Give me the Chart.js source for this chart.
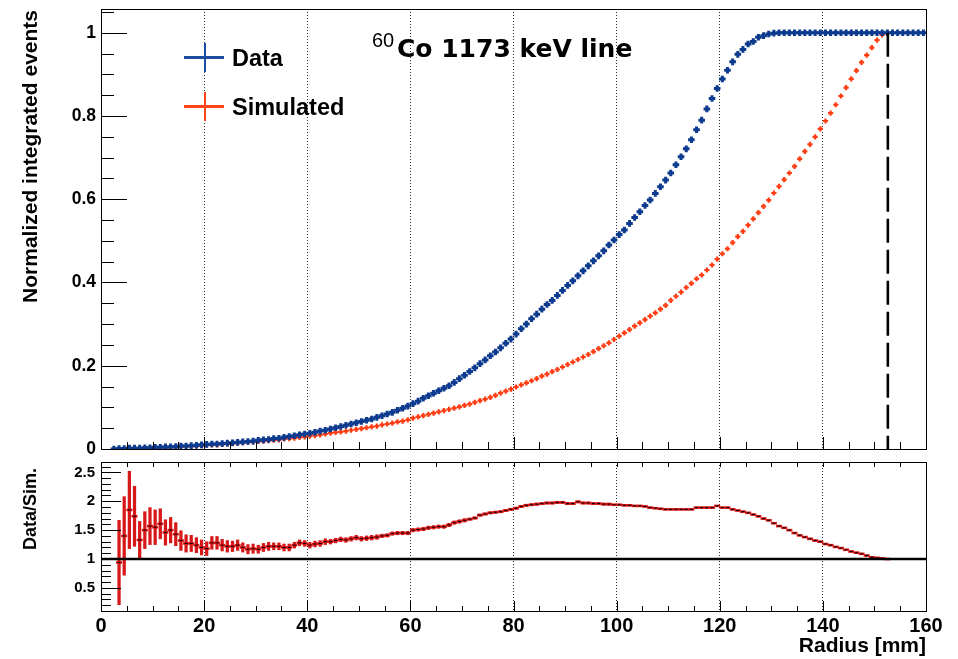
<!DOCTYPE html>
<html>
<head>
<meta charset="utf-8">
<script src="https://cdn.jsdelivr.net/npm/chart.js@4.4.1/dist/chart.umd.min.js"></script>
<style>
  body { margin: 0; background: #fff; width: 958px; height: 659px; overflow: hidden; position: relative;
         font-family: "Liberation Sans", Arial, sans-serif; }
  canvas { position: absolute; left: 0; }
  #topChart { top: 0; }
  #ratioChart { top: 455px; }
  .txt { position: absolute; white-space: nowrap; color: #000; line-height: 1; }
  .b { font-weight: bold; }
  .vert { writing-mode: vertical-rl; transform: rotate(180deg); }
  .bar { position: absolute; }
</style>
</head>
<body>
<canvas id="topChart" width="958" height="456"></canvas>
<canvas id="ratioChart" width="958" height="204"></canvas>

<div class="txt vert b" style="left:19px; top:10px; font-size:21px;">Normalized integrated events</div>
<div class="txt vert b" style="left:21px; top:468px; font-size:18px;">Data/Sim.</div>
<div class="txt b" style="right:32px; top:634px; font-size:21px;">Radius [mm]</div>

<div class="txt" style="left:372px; top:30px; font-size:20px;">60</div>
<div class="txt b" style="left:397px; top:36px; font-size:25px; font-family:'DejaVu Sans';">Co 1173 keV line</div>

<!-- legende -->
<div class="bar" style="left:184px; top:56px; width:40px; height:2.5px; background:#1d4d9f;"></div>
<div class="bar" style="left:203.5px; top:43px; width:2.5px; height:29px; background:#1d4d9f;"></div>
<div class="txt b" style="left:232px; top:47px; font-size:23.5px;">Data</div>
<div class="bar" style="left:184px; top:105px; width:40px; height:2.5px; background:#ff4418;"></div>
<div class="bar" style="left:203.5px; top:92px; width:2.5px; height:29px; background:#ff4418;"></div>
<div class="txt b" style="left:232px; top:96px; font-size:23.5px;">Simulated</div>

<script>
// centros dos bins (mm)
const radius = [
  2.5, 3.5, 4.5, 5.5, 6.5, 7.5, 8.5, 9.5, 10.5, 11.5,
  12.5, 13.5, 14.5, 15.5, 16.5, 17.5, 18.5, 19.5, 20.5, 21.5,
  22.5, 23.5, 24.5, 25.5, 26.5, 27.5, 28.5, 29.5, 30.5, 31.5,
  32.5, 33.5, 34.5, 35.5, 36.5, 37.5, 38.5, 39.5, 40.5, 41.5,
  42.5, 43.5, 44.5, 45.5, 46.5, 47.5, 48.5, 49.5, 50.5, 51.5,
  52.5, 53.5, 54.5, 55.5, 56.5, 57.5, 58.5, 59.5, 60.5, 61.5,
  62.5, 63.5, 64.5, 65.5, 66.5, 67.5, 68.5, 69.5, 70.5, 71.5,
  72.5, 73.5, 74.5, 75.5, 76.5, 77.5, 78.5, 79.5, 80.5, 81.5,
  82.5, 83.5, 84.5, 85.5, 86.5, 87.5, 88.5, 89.5, 90.5, 91.5,
  92.5, 93.5, 94.5, 95.5, 96.5, 97.5, 98.5, 99.5, 100.5, 101.5,
  102.5, 103.5, 104.5, 105.5, 106.5, 107.5, 108.5, 109.5, 110.5, 111.5,
  112.5, 113.5, 114.5, 115.5, 116.5, 117.5, 118.5, 119.5, 120.5, 121.5,
  122.5, 123.5, 124.5, 125.5, 126.5, 127.5, 128.5, 129.5, 130.5, 131.5,
  132.5, 133.5, 134.5, 135.5, 136.5, 137.5, 138.5, 139.5, 140.5, 141.5,
  142.5, 143.5, 144.5, 145.5, 146.5, 147.5, 148.5, 149.5, 150.5, 151.5,
  152.5, 153.5, 154.5, 155.5, 156.5, 157.5, 158.5, 159.5
];

// Data (integrado, normalizado) - 2.5 a 159.5 mm
const dataValues = [
  0.000, 0.001, 0.001, 0.002, 0.002, 0.002, 0.003, 0.003, 0.004, 0.004,
  0.005, 0.005, 0.006, 0.007, 0.007, 0.008, 0.009, 0.010, 0.011, 0.012,
  0.012, 0.013, 0.014, 0.015, 0.016, 0.017, 0.018, 0.019, 0.021, 0.022,
  0.023, 0.025, 0.026, 0.028, 0.030, 0.032, 0.034, 0.036, 0.038, 0.040,
  0.043, 0.045, 0.048, 0.051, 0.054, 0.057, 0.060, 0.063, 0.066, 0.069,
  0.072, 0.076, 0.080, 0.084, 0.088, 0.093, 0.098, 0.103, 0.109, 0.115,
  0.122, 0.128, 0.134, 0.140, 0.146, 0.152, 0.160, 0.169, 0.177, 0.186,
  0.195, 0.205, 0.214, 0.224, 0.233, 0.243, 0.254, 0.264, 0.276, 0.289,
  0.300, 0.313, 0.324, 0.336, 0.347, 0.357, 0.369, 0.381, 0.393, 0.404,
  0.416, 0.428, 0.440, 0.452, 0.464, 0.476, 0.490, 0.502, 0.515, 0.526,
  0.542, 0.556, 0.570, 0.585, 0.598, 0.614, 0.630, 0.646, 0.663, 0.683,
  0.702, 0.721, 0.743, 0.767, 0.790, 0.817, 0.842, 0.866, 0.889, 0.910,
  0.930, 0.948, 0.960, 0.973, 0.979, 0.989, 0.993, 0.997, 0.999, 1.000,
  1.000, 1.000, 1.000, 1.000, 1.000, 1.000, 1.000, 1.000, 1.000, 1.000,
  1.000, 1.000, 1.000, 1.000, 1.000, 1.000, 1.000, 1.000, 1.000, 1.000,
  1.000, 1.000, 1.000, 1.000, 1.000, 1.000, 1.000, 1.000
];

// Simulated - 2.5 a 152.5 mm
const simValues = [
  0.000, 0.000, 0.001, 0.001, 0.001, 0.001, 0.002, 0.002, 0.003, 0.003,
  0.003, 0.004, 0.004, 0.005, 0.006, 0.006, 0.007, 0.008, 0.009, 0.010,
  0.010, 0.011, 0.012, 0.013, 0.014, 0.015, 0.016, 0.017, 0.018, 0.019,
  0.020, 0.021, 0.022, 0.024, 0.025, 0.026, 0.028, 0.029, 0.031, 0.032,
  0.034, 0.036, 0.038, 0.040, 0.041, 0.043, 0.045, 0.047, 0.049, 0.051,
  0.053, 0.055, 0.058, 0.060, 0.062, 0.065, 0.067, 0.070, 0.074, 0.077,
  0.080, 0.083, 0.086, 0.089, 0.092, 0.095, 0.098, 0.101, 0.105, 0.108,
  0.112, 0.116, 0.120, 0.124, 0.129, 0.134, 0.139, 0.144, 0.149, 0.154,
  0.159, 0.164, 0.169, 0.175, 0.180, 0.186, 0.191, 0.197, 0.203, 0.209,
  0.215, 0.221, 0.227, 0.234, 0.241, 0.248, 0.255, 0.263, 0.271, 0.279,
  0.287, 0.295, 0.303, 0.311, 0.319, 0.327, 0.336, 0.345, 0.357, 0.367,
  0.377, 0.388, 0.398, 0.409, 0.418, 0.430, 0.442, 0.456, 0.469, 0.481,
  0.496, 0.510, 0.523, 0.538, 0.553, 0.568, 0.583, 0.598, 0.615, 0.631,
  0.647, 0.663, 0.679, 0.697, 0.715, 0.732, 0.750, 0.769, 0.788, 0.807,
  0.827, 0.848, 0.868, 0.889, 0.909, 0.929, 0.946, 0.964, 0.982, 0.995,
  1.000
];

// Data/Sim. - 3.5 a 152.5 mm
const ratioValues = [
  0.94, 1.40, 1.85, 1.74, 1.33, 1.50, 1.57, 1.55, 1.61, 1.46,
  1.50, 1.43, 1.32, 1.27, 1.27, 1.24, 1.20, 1.18, 1.28, 1.28,
  1.24, 1.22, 1.22, 1.24, 1.20, 1.17, 1.18, 1.17, 1.20, 1.22,
  1.22, 1.22, 1.20, 1.20, 1.24, 1.28, 1.27, 1.24, 1.26, 1.27,
  1.30, 1.30, 1.32, 1.34, 1.33, 1.35, 1.37, 1.35, 1.36, 1.37,
  1.38, 1.40, 1.41, 1.44, 1.45, 1.45, 1.45, 1.50, 1.51, 1.52,
  1.54, 1.55, 1.56, 1.56, 1.59, 1.63, 1.65, 1.67, 1.69, 1.71,
  1.76, 1.78, 1.80, 1.81, 1.82, 1.84, 1.86, 1.88, 1.91, 1.93,
  1.94, 1.95, 1.96, 1.97, 1.97, 1.98, 1.98, 1.96, 1.96, 1.99,
  1.97, 1.97, 1.96, 1.96, 1.95, 1.95, 1.94, 1.94, 1.93, 1.93,
  1.92, 1.92, 1.91, 1.89, 1.88, 1.87, 1.86, 1.86, 1.86, 1.86,
  1.86, 1.86, 1.89, 1.89, 1.89, 1.89, 1.92, 1.89, 1.89, 1.86,
  1.84, 1.82, 1.80, 1.77, 1.74, 1.70, 1.67, 1.62, 1.57, 1.54,
  1.50, 1.45, 1.41, 1.38, 1.35, 1.32, 1.30, 1.26, 1.24, 1.21,
  1.19, 1.16, 1.13, 1.11, 1.09, 1.06, 1.03, 1.02, 1.01, 1.00
];

// erro da razao (meia largura)
const ratioErrors = [
  0.73, 0.68, 0.67, 0.52, 0.32, 0.32, 0.32, 0.30, 0.26, 0.22,
  0.22, 0.20, 0.17, 0.15, 0.14, 0.13, 0.13, 0.12, 0.11, 0.11,
  0.10, 0.10, 0.09, 0.09, 0.08, 0.08, 0.08, 0.07, 0.07, 0.07,
  0.06, 0.06, 0.06, 0.06, 0.05, 0.05, 0.05, 0.05, 0.05, 0.05,
  0.05, 0.04, 0.04, 0.04, 0.04, 0.04, 0.04, 0.04, 0.04, 0.04,
  0.04, 0.03, 0.03, 0.03, 0.03, 0.03, 0.03, 0.03, 0.03, 0.03,
  0.03, 0.03, 0.03, 0.03, 0.03, 0.03, 0.03, 0.03, 0.02, 0.02,
  0.02, 0.02, 0.02, 0.02, 0.02, 0.02, 0.02, 0.02, 0.02, 0.02,
  0.02, 0.02, 0.02, 0.02, 0.02, 0.02, 0.02, 0.02, 0.02, 0.02,
  0.02, 0.02, 0.02, 0.02, 0.02, 0.02, 0.01, 0.01, 0.01, 0.01,
  0.01, 0.01, 0.01, 0.01, 0.01, 0.01, 0.01, 0.01, 0.01, 0.01,
  0.01, 0.01, 0.01, 0.01, 0.01, 0.01, 0.01, 0.01, 0.01, 0.01,
  0.01, 0.01, 0.01, 0.01, 0.01, 0.01, 0.01, 0.01, 0.01, 0.01,
  0.01, 0.01, 0.01, 0.01, 0.01, 0.01, 0.01, 0.01, 0.01, 0.01,
  0.01, 0.01, 0.01, 0.01, 0.01, 0.01, 0.01, 0.01, 0.01, 0.01
];

const xTicks = [0, 20, 40, 60, 80, 100, 120, 140, 160];
const topYTicks = [0, 0.2, 0.4, 0.6, 0.8, 1];
const ratioYTicks = [0.5, 1, 1.5, 2, 2.5];
const cutRadius = 152.6;   // linha tracejada
const ratioRef = 1;

const BLUE = '#0c3a8e';
const RED = '#ff3c12';
const RATIO_RED = '#d81818';
const FONT = '"Liberation Sans", Arial, sans-serif';

// pontos
const dataPts = dataValues.map((v, i) => ({ x: radius[i], y: v }));
const simPts = simValues.map((v, i) => ({ x: radius[i], y: v }));
// a razao comeca no segundo bin
const ratioPts = ratioValues.map((v, i) => ({ x: radius[i + 1], y: v }));
const ratioErrPts = ratioValues.map((v, i) => ({ x: radius[i + 1], y: [v - ratioErrors[i], v + ratioErrors[i]] }));

// moldura e tracinhos internos no estilo ROOT
const rootFrame = {
  id: 'rootFrame',
  afterDraw(chart, args, o) {
    const { ctx, chartArea: a, scales: { x, y } } = chart;
    ctx.save();
    ctx.strokeStyle = '#000';
    ctx.lineWidth = 1;
    ctx.beginPath();
    const nx = Math.round((o.xMax - o.xMin) / o.xStep);
    for (let i = 0; i <= nx; i++) {
      const v = o.xMin + i * o.xStep;
      const px = Math.round(x.getPixelForValue(v)) + 0.5;
      const major = Math.abs(v / o.xMajor - Math.round(v / o.xMajor)) < 1e-6;
      const len = major ? o.bottomMajor : o.bottomMinor;
      ctx.moveTo(px, a.bottom);
      ctx.lineTo(px, a.bottom - len);
      if (o.topLen) {
        ctx.moveTo(px, a.top);
        ctx.lineTo(px, a.top + o.topLen);
      }
    }
    const ny = Math.round((o.yMax - o.yMin) / o.yStep);
    for (let i = 0; i <= ny; i++) {
      const v = o.yMin + i * o.yStep;
      const py = Math.round(y.getPixelForValue(v)) + 0.5;
      const major = Math.abs(v / o.yMajor - Math.round(v / o.yMajor)) < 1e-6;
      ctx.moveTo(a.left, py);
      ctx.lineTo(a.left + (major ? o.leftMajor : o.leftMinor), py);
    }
    ctx.stroke();
    ctx.strokeRect(Math.round(a.left) + 0.5, Math.round(a.top) + 0.5,
                   Math.round(a.right - a.left), Math.round(a.bottom - a.top));
    ctx.restore();
  }
};

const gridColor = c => (c.tick && c.tick.value > 0 && c.tick.value < 160) ? '#2a2a2a' : 'rgba(0,0,0,0)';

// zera o espaco extra que o Chart.js reserva para os rotulos das pontas
const fixX = h => s => { s.height = h; s.paddingLeft = 0; s.paddingRight = 0; };
const fixY = w => s => { s.width = w; s.paddingTop = 0; s.paddingBottom = 0; };

// painel de cima
new Chart(document.getElementById('topChart'), {
  type: 'scatter',
  plugins: [rootFrame],
  data: {
    datasets: [
      {
        type: 'line',
        data: [{ x: cutRadius, y: 1 }, { x: cutRadius, y: 0 }],
        borderColor: '#000',
        borderWidth: 2.6,
        borderDash: [24, 7],
        pointRadius: 0,
        order: 0
      },
      {
        label: 'Data',
        data: dataPts,
        pointStyle: 'cross',
        pointRadius: 3.3,
        pointBorderWidth: 3,
        borderColor: BLUE,
        pointBorderColor: BLUE,
        order: 1
      },
      {
        label: 'Simulated',
        data: simPts,
        pointStyle: 'cross',
        pointRadius: 2.6,
        pointBorderWidth: 2.2,
        borderColor: RED,
        pointBorderColor: RED,
        order: 2
      }
    ]
  },
  options: {
    responsive: false,
    animation: false,
    layout: { padding: { left: 0, right: 32, top: 9, bottom: 0 } },
    plugins: {
      legend: { display: false },
      tooltip: { enabled: false },
      rootFrame: {
        xMin: 0, xMax: 160, xStep: 5, xMajor: 20, bottomMajor: 12, bottomMinor: 7, topLen: 0,
        yMin: 0, yMax: 1.05, yStep: 0.05, yMajor: 0.2, leftMajor: 26, leftMinor: 13
      }
    },
    scales: {
      x: {
        type: 'linear', min: 0, max: 160, offset: false,
        afterBuildTicks: s => { s.ticks = xTicks.map(v => ({ value: v })); },
        afterFit: fixX(6),
        ticks: { display: false },
        grid: { color: gridColor, lineWidth: 1, drawTicks: false, offset: false },
        border: { display: false, dash: [1, 2] }
      },
      y: {
        min: 0, max: 1.057,
        afterBuildTicks: s => { s.ticks = topYTicks.map(v => ({ value: v })); },
        afterFit: fixY(101),
        ticks: { color: '#000', padding: 5, font: { family: FONT, size: 17.5, weight: 'bold' }, callback: v => String(v) },
        grid: { display: false, drawTicks: false },
        border: { display: false }
      }
    }
  }
});

// painel da razao
new Chart(document.getElementById('ratioChart'), {
  type: 'scatter',
  plugins: [rootFrame],
  data: {
    datasets: [
      {
        type: 'line',
        data: [{ x: 0, y: ratioRef }, { x: 160, y: ratioRef }],
        borderColor: '#000',
        borderWidth: 2.6,
        pointRadius: 0,
        order: 0
      },
      {
        data: ratioPts,
        pointStyle: 'line',
        pointRadius: 1.5,
        pointBorderWidth: 1,
        borderColor: '#000',
        pointBorderColor: '#000',
        order: 1
      },
      {
        data: ratioPts,
        pointStyle: 'line',
        pointRadius: 3,
        pointBorderWidth: 2.6,
        borderColor: RATIO_RED,
        pointBorderColor: RATIO_RED,
        order: 2
      },
      {
        type: 'bar',
        data: ratioErrPts,
        backgroundColor: RATIO_RED,
        barThickness: 2.6,
        grouped: false,
        order: 3
      }
    ]
  },
  options: {
    responsive: false,
    animation: false,
    layout: { padding: { left: 0, right: 32, top: 7, bottom: 0 } },
    plugins: {
      legend: { display: false },
      tooltip: { enabled: false },
      rootFrame: {
        xMin: 0, xMax: 160, xStep: 5, xMajor: 20, bottomMajor: 10, bottomMinor: 5, topLen: 5,
        yMin: 0.2, yMax: 2.6, yStep: 0.1, yMajor: 0.5, leftMajor: 20, leftMinor: 10
      }
    },
    scales: {
      x: {
        type: 'linear', min: 0, max: 160, offset: false,
        afterBuildTicks: s => { s.ticks = xTicks.map(v => ({ value: v })); },
        afterFit: fixX(48),
        ticks: { color: '#000', padding: 3, maxRotation: 0, autoSkip: false,
                 font: { family: FONT, size: 20, weight: 'bold' }, callback: v => String(v) },
        grid: { color: gridColor, lineWidth: 1, drawTicks: false, offset: false },
        border: { display: false, dash: [1, 2] }
      },
      y: {
        min: 0.1, max: 2.68,
        afterBuildTicks: s => { s.ticks = ratioYTicks.map(v => ({ value: v })); },
        afterFit: fixY(101),
        ticks: { color: '#000', padding: 6, font: { family: FONT, size: 15, weight: 'bold' }, callback: v => String(v) },
        grid: { display: false, drawTicks: false },
        border: { display: false }
      }
    }
  }
});
</script>
</body>
</html>
